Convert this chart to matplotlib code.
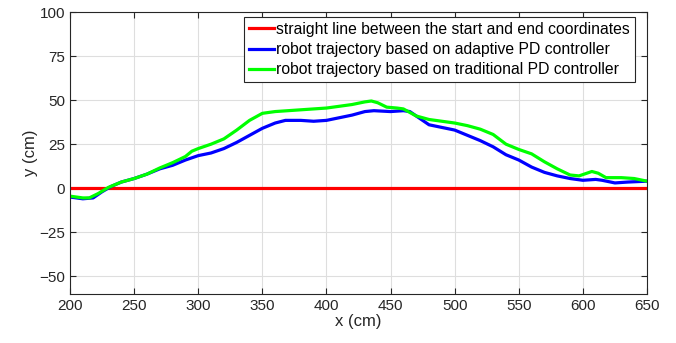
"""Robot trajectory comparison: adaptive vs traditional PD controller."""

import matplotlib

matplotlib.use("Agg")
import matplotlib.pyplot as plt

plt.rcParams["font.family"] = ["Liberation Sans", "DejaVu Sans"]

# straight reference line
line_x = [200, 650]
line_y = [0, 0]

# adaptive PD controller trajectory
adaptive_x = [200, 210, 218, 225, 232, 240, 250, 260, 270, 280, 290, 300, 310, 320,
              330, 340, 350, 360, 368, 380, 390, 400, 410, 420, 430, 437, 450, 460,
              465, 470, 480, 490, 500, 510, 520, 530, 540, 550, 560, 570, 580, 590,
              600, 610, 615, 625, 635, 650]
adaptive_y = [-5, -6, -5.5, -2, 1, 3.5, 5.5, 8, 11, 13, 16, 18.5, 20, 22.5,
              26, 30, 34, 37, 38.5, 38.5, 38, 38.5, 40, 41.5, 43.5, 44, 43.5, 44,
              43.5, 41, 36, 34.5, 33, 30, 27, 23.5, 19, 16, 12, 9, 7, 5.5,
              4.5, 5, 4.5, 3, 3.5, 4]

# traditional PD controller trajectory
traditional_x = [200, 210, 215, 222, 230, 240, 250, 260, 270, 280, 290, 295, 300, 310,
                 320, 330, 340, 350, 360, 370, 380, 390, 400, 410, 420, 430, 435, 440,
                 447, 455, 460, 470, 480, 490, 500, 510, 520, 530, 540, 550, 560, 570,
                 580, 590, 597, 607, 612, 618, 630, 640, 650]
traditional_y = [-4.5, -5.5, -5.5, -3, 0.5, 3.5, 5.5, 8, 11.5, 14.5, 18, 21, 22.5, 25,
                 28, 33, 38.5, 42.5, 43.5, 44, 44.5, 45, 45.5, 46.5, 47.5, 49, 49.5, 48.5,
                 46, 45.5, 45, 41, 39, 38, 37, 35.5, 33.5, 30.5, 25, 22, 19.5, 15,
                 11, 7.5, 7, 9.5, 8.5, 6, 6, 5.5, 4]

x_ticks = [200, 250, 300, 350, 400, 450, 500, 550, 600, 650]
y_ticks = [-50, -25, 0, 25, 50, 75, 100]

fig = plt.figure(figsize=(6.76, 3.43), dpi=100)
ax = fig.add_axes([0.1036, 0.143, 0.8535, 0.822])

ax.plot(line_x, line_y, color="#ff0000", lw=2.3,
        label="straight line between the start and end coordinates")
ax.plot(adaptive_x, adaptive_y, color="#0000ff", lw=2.3,
        label="robot trajectory based on adaptive PD controller")
ax.plot(traditional_x, traditional_y, color="#00ff00", lw=2.3,
        label="robot trajectory based on traditional PD controller")

ax.set_xlim(200, 650)
ax.set_ylim(-60, 100)
ax.set_xticks(x_ticks)
ax.set_yticks(y_ticks)
ax.grid(True, color="#dedede", lw=0.8)
ax.set_axisbelow(True)
ax.tick_params(direction="in", top=True, right=True, labelsize=11, colors="#262626",
               length=4)
for spine in ax.spines.values():
    spine.set_color("#262626")
    spine.set_linewidth(0.8)
ax.set_xlabel("x (cm)", fontsize=12, color="#262626", labelpad=1)
ax.set_ylabel("y (cm)", fontsize=12, color="#262626", labelpad=1)

leg = ax.legend(loc="upper right", bbox_to_anchor=(0.979, 0.983), fontsize=11.3,
                fancybox=False, framealpha=1, edgecolor="#262626",
                handlelength=1.6, handletextpad=0.15, borderpad=0.3,
                labelspacing=0.35, borderaxespad=0.0)
leg.get_frame().set_linewidth(0.8)

fig.savefig("out.png", dpi=100)
